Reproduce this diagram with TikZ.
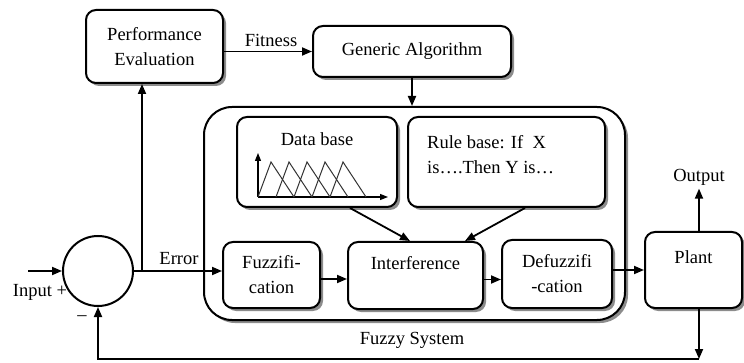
\documentclass[tikz,border=0pt]{standalone}
\usepackage{fontspec}
\setmainfont{Liberation Serif}
\usetikzlibrary{shadows,arrows.meta}
\begin{document}
\begin{tikzpicture}[x=1pt,y=-1pt,
  every node/.style={font=\fontsize{18.5}{25}\selectfont},
  box/.style={draw, line width=2pt, rounded corners=10pt, fill=white,
    drop shadow={shadow xshift=3pt,shadow yshift=-3pt,fill=black!45,opacity=1},
    align=center, inner sep=0pt},
  conn/.style={line width=1.8pt, -{Triangle[length=10pt,width=8pt]}},
  axis/.style={line width=1.3pt, -{Triangle[length=8pt,width=6pt]}},
  mf/.style={line width=1pt, black!80}]
\useasboundingbox (0,0) rectangle (744,363);
% top boxes
\node[box, minimum width=137pt, minimum height=73pt] (perf) at (154.5,46.5) {Performance\\Evaluation};
\node[box, minimum width=198pt, minimum height=51pt] (ga) at (412,51.5) {Generic Algorithm};
% fuzzy system
\node[box, rounded corners=28pt, minimum width=421pt, minimum height=213pt] (fs) at (414.5,213.5) {};
\node[box, minimum width=160pt, minimum height=90pt] (db) at (317,162) {};
\node (dbt) at (317,139) {Data base};
\node[box, minimum width=197pt, minimum height=90pt] (rb) at (506.5,162) {};
\node[anchor=west, align=left, inner sep=0pt] (rbt) at (427,154.5) {Rule base: If\ \ X\\is….Then Y is…};
\node[box, minimum width=97pt, minimum height=66pt] (fz) at (271.5,275) {Fuzzifi-\\cation};
\node[box, minimum width=135pt, minimum height=67pt] (inf) at (415.5,275.5) {Interference\\\mbox{}};
\node[box, minimum width=110pt, minimum height=68pt] (dfz) at (557,274) {Defuzzifi\\-cation};
\node[box, minimum width=97pt, minimum height=76pt] (plant) at (693.5,270) {Plant\\\mbox{}};
% membership plot
\draw[axis] (258,197) -- (258,153);
\draw[axis] (258,197) -- (388,197);
\foreach \i in {0,...,4}
  \draw[mf] (258+18*\i,197) -- (271+18*\i,162) -- (294+18*\i,197);
% summation
\node[circle, draw, line width=2pt, minimum size=70pt, inner sep=0pt] (sum) at (98,271) {};
% labels
\node (fit) at (271,40) {Fitness};
\node (err) at (179,259) {Error};
\node (inp) at (40,292) {Input +};
\node (minus) at (82,318) {–};
\node (out) at (699,177) {Output};
\node (fsl) at (412,340) {Fuzzy System};
% connectors
\coordinate (inpt) at (28,271);
\coordinate (tap) at (142,271);
\coordinate (fb1) at (699,359);
\draw[conn] (perf.east |- ga.west) -- (ga.west);
\draw[conn] (ga.south) -- (ga.south |- fs.north);
\draw[conn] (inpt) -- (sum.west);
\draw[conn] (sum.east) -- (sum.east -| fz.west);
\draw[conn] (tap) -- (tap |- perf.south);
\draw[conn] ([yshift=-4pt]fz.east) -- ([yshift=-4pt]fz.east -| inf.west);
\draw[conn] ([yshift=-4pt]inf.east) -- ([yshift=-4pt]inf.east -| dfz.west);
\draw[conn] (dfz.east |- plant.west) -- (plant.west);
\draw[conn] ([xshift=33pt]db.south) -- ([xshift=-5.5pt]inf.north);
\draw[conn] ([xshift=18.5pt]rb.south) -- ([xshift=49.5pt]inf.north);
\draw[conn] (plant.north -| out.south) -- (out.south);
\draw[conn] (plant.south -| fb1) -- (fb1);
\draw[conn] (fb1) -- (sum.south |- fb1) -- (sum.south);
\end{tikzpicture}
\end{document}
